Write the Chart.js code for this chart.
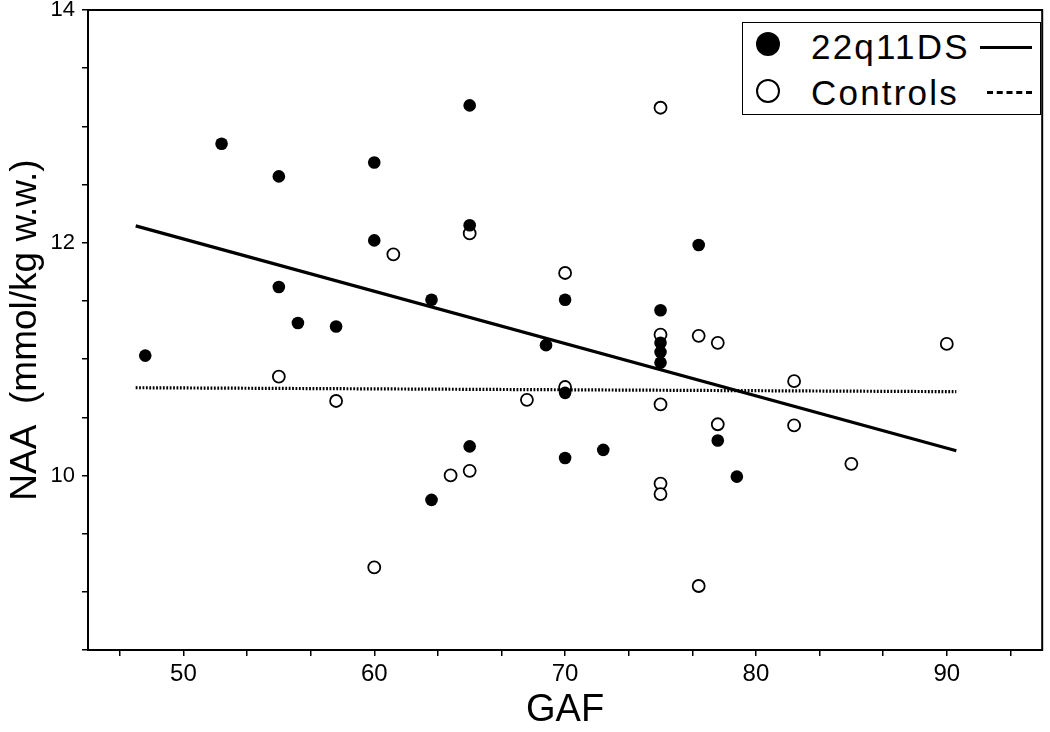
<!DOCTYPE html>
<html>
<head>
<meta charset="utf-8">
<script src="https://cdn.jsdelivr.net/npm/chart.js@4/dist/chart.umd.min.js"></script>
<style>
  html, body { margin: 0; padding: 0; background: #fff; }
  #wrap { position: relative; width: 1050px; height: 732px; }
  #legend { position: absolute; left: 742px; top: 22px; width: 299px; height: 93px;
            border: 1.5px solid #000; box-sizing: border-box; background: #fff;
            font-family: "Liberation Sans", Arial, sans-serif; font-size: 35px; color: #000; }
  .lg-mark { position: absolute; width: 24px; height: 24px; border-radius: 50%; box-sizing: border-box; }
  .lg-text { position: absolute; left: 68px; line-height: 40px; letter-spacing: 2.2px; white-space: pre; }
  .lg-line { position: absolute; height: 0; }
</style>
</head>
<body>
<div id="wrap">
  <canvas id="c"></canvas>
  <div id="legend">
    <div class="lg-mark" style="left:13px; top:9px; background:#000;"></div>
    <div class="lg-text" style="top:4px;">22q11DS</div>
    <div class="lg-line" style="left:237px; top:23px; width:52px; border-top:3px solid #000;"></div>
    <div class="lg-mark" style="left:13px; top:56px; background:#fff; border:2.6px solid #000;"></div>
    <div class="lg-text" style="top:50px;">Controls</div>
    <div class="lg-line" style="left:244px; top:68px; width:45px; border-top:3px dashed #000;"></div>
  </div>
</div>
<script>
// ---- data ----
const dsGAF = [48, 52, 55, 55, 56, 58, 60, 60, 63, 63, 65, 65, 65, 69, 70, 70, 70, 72, 75, 75, 75, 75, 77, 78, 79];
const dsNAA = [11.03, 12.85, 12.57, 11.62, 11.31, 11.28, 12.69, 12.02, 11.51, 9.79, 13.18, 12.15, 10.25, 11.12, 11.51, 10.71, 10.15, 10.22, 11.42, 11.14, 11.06, 10.97, 11.98, 10.30, 9.99];

const ctGAF = [75, 65, 61, 70, 75, 77, 78, 90, 55, 82, 70, 58, 68, 75, 78, 82, 85, 65, 64, 75, 75, 60, 77];
const ctNAA = [13.16, 12.08, 11.90, 11.74, 11.21, 11.20, 11.14, 11.13, 10.85, 10.81, 10.76, 10.64, 10.65, 10.61, 10.44, 10.43, 10.10, 10.04, 10.00, 9.93, 9.84, 9.21, 9.05];

// regression line end points
const fitGAF = [47.5, 90.5];
const fitDS = [12.145, 10.212];
const fitCT = [10.754, 10.720];

// axis ticks
const xLabelTicks = [50, 60, 70, 80, 90];
const yLabelTicks = [10, 12, 14];

const toXY = (xs, ys) => xs.map((x, i) => ({ x: x, y: ys[i] }));
const FONT = '"Liberation Sans", Arial, sans-serif';

const framePlugin = {
  id: 'frame',
  beforeDatasetsDraw(chart) {
    const { ctx, chartArea: a } = chart;
    ctx.save();
    ctx.strokeStyle = '#000';
    ctx.lineWidth = 2;
    ctx.strokeRect(a.left, a.top, a.right - a.left, a.bottom - a.top);
    ctx.restore();
  }
};

new Chart(document.getElementById('c'), {
  type: 'scatter',
  data: {
    datasets: [
      { label: '22q11DS', data: toXY(dsGAF, dsNAA), pointStyle: 'circle', pointRadius: 6.3,
        backgroundColor: '#000', borderColor: '#000', borderWidth: 0, order: 1 },
      { label: 'Controls', data: toXY(ctGAF, ctNAA), pointStyle: 'circle', pointRadius: 6,
        backgroundColor: '#fff', borderColor: '#000', borderWidth: 1.8, order: 2 },
      { type: 'line', label: '22q11DS fit', data: toXY(fitGAF, fitDS), borderColor: '#000',
        borderWidth: 3.2, pointRadius: 0, fill: false, order: 3 },
      { type: 'line', label: 'Controls fit', data: toXY(fitGAF, fitCT), borderColor: '#000',
        borderWidth: 3.2, borderDash: [1.8, 1.6], pointRadius: 0, fill: false, order: 4 }
    ]
  },
  options: {
    responsive: true,
    maintainAspectRatio: false,
    animation: false,
    layout: { padding: { top: 10, right: 3, left: 0, bottom: 0 } },
    plugins: { legend: { display: false }, tooltip: { enabled: false } },
    scales: {
      x: {
        type: 'linear', min: 45, max: 95,
        afterFit(s) { s.height = 82; s.paddingLeft = 0; s.paddingRight = 0; },
        afterBuildTicks(s) {
          const t = [];
          for (let i = 14; i <= 28; i++) t.push({ value: i * 10 / 3 });
          s.ticks = t;
        },
        ticks: {
          color: '#000', font: { family: FONT, size: 24 }, padding: 4, maxRotation: 0, autoSkip: false,
          callback(v) {
            const m = xLabelTicks.find(l => Math.abs(l - v) < 1e-6);
            return m !== undefined ? String(m) : '';
          }
        },
        grid: { drawOnChartArea: false, drawTicks: true, tickLength: 6, color: '#000', lineWidth: 1.5 },
        border: { display: true, color: '#000', width: 2 },
        title: { display: true, text: 'GAF', color: '#000',
                 font: { family: FONT, size: 38, lineHeight: 0.9 }, padding: { top: 0, bottom: 4 } }
      },
      y: {
        type: 'linear', min: 8.5, max: 14,
        afterFit(s) { s.width = 88; s.paddingTop = 0; s.paddingBottom = 0; },
        ticks: {
          stepSize: 0.5, color: '#000', font: { family: FONT, size: 22 }, padding: 7, autoSkip: false,
          callback(v) {
            const m = yLabelTicks.find(l => Math.abs(l - v) < 1e-6);
            return m !== undefined ? String(m) : '';
          }
        },
        grid: { drawOnChartArea: false, drawTicks: true, tickLength: 6, color: '#000', lineWidth: 1.5 },
        border: { display: true, color: '#000', width: 2 },
        title: { display: true, text: 'NAA  (mmol/kg w.w.)', color: '#000',
                 font: { family: FONT, size: 37, lineHeight: 1 }, padding: { top: 7, bottom: 0 } }
      }
    }
  },
  plugins: [framePlugin]
});
</script>
</body>
</html>
